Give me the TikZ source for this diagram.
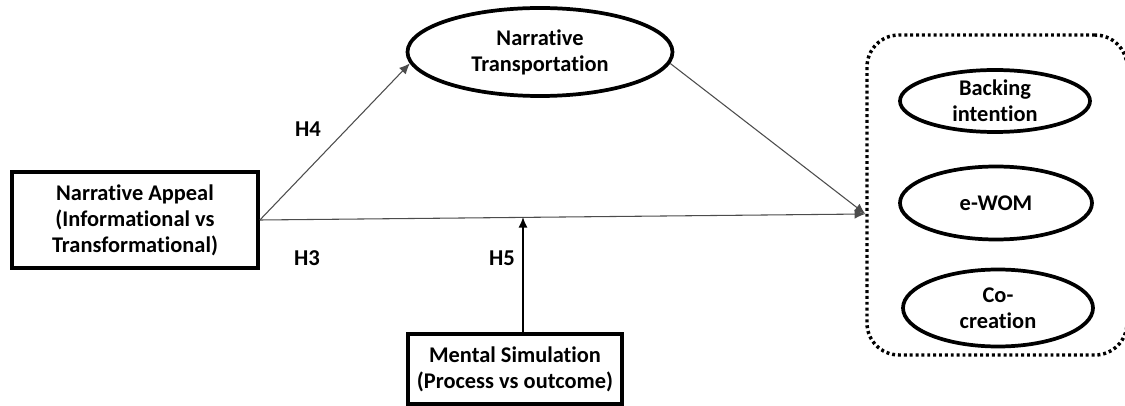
\documentclass[tikz,border=0pt]{standalone}
\usepackage{fontspec}
\setmainfont{Carlito}[Ligatures=NoCommon]
\usetikzlibrary{arrows.meta,shapes.geometric}
\tikzset{
  varbox/.style={draw=black, line width=2.8pt, rectangle, align=center, font=\bfseries\fontsize{16.8}{19.5}\selectfont},
  varoval/.style={draw=black, line width=2.8pt, ellipse, inner sep=0pt, align=center, font=\bfseries\fontsize{16.8}{19.5}\selectfont},
  hyp/.style={draw=black!70, line width=0.8pt, -{Latex[length=8pt,width=7pt]}},
  hlabel/.style={font=\bfseries\fontsize{17}{18}\selectfont}
}
\begin{document}
\begin{tikzpicture}[x=0.75pt, y=-0.75pt]
            \useasboundingbox (0,0) rectangle (1125,406);
            % variables
            \node[varbox, minimum width=246*0.75pt, minimum height=96*0.75pt] (appeal) at (135,220)
            {Narrative Appeal\\(Informational vs\\Transformational)};
            \node[varoval, minimum width=265*0.75pt, minimum height=88*0.75pt] (trans) at (540,52)
            {Narrative\\Transportation};
            \node[varbox, minimum width=214*0.75pt, minimum height=70*0.75pt] (mental) at (515,369)
            {Mental Simulation\\(Process vs outcome)};
            % outcome group
            \node[draw=black, line width=2.6pt, dash pattern=on 2.2pt off 2.2pt, rounded corners=24pt,
            minimum width=260*0.75pt, minimum height=320*0.75pt] (outcomes) at (997,195) {};
            \node[varoval, minimum width=190*0.75pt, minimum height=62*0.75pt] (backing) at (995,101)
            {Backing\\intention};
            \node[varoval, minimum width=192*0.75pt, minimum height=73*0.75pt] (ewom) at (996,203)
            {e-WOM};
            \node[varoval, minimum width=190*0.75pt, minimum height=77*0.75pt] (cocreate) at (998,308)
            {Co-\\creation};
            % paths
            \coordinate (tip) at (outcomes.west |- 0,214);
            \coordinate (mod) at (523,217);
            \draw[hyp] (appeal.east) -- (trans.185);
            \draw[hyp] (trans.355) -- (tip);
            \draw[hyp] (appeal.east) -- (tip);
            \draw[line width=1.3pt, -{Latex[length=8pt,width=7pt]}] (mental.north -| mod) -- (mod);
            % hypotheses
            \node[hlabel] (h4) at (308,129) {H4};
            \node[hlabel] (h3) at (307,258) {H3};
            \node[hlabel] (h5) at (502,258) {H5};
        \end{tikzpicture}
\end{document}
